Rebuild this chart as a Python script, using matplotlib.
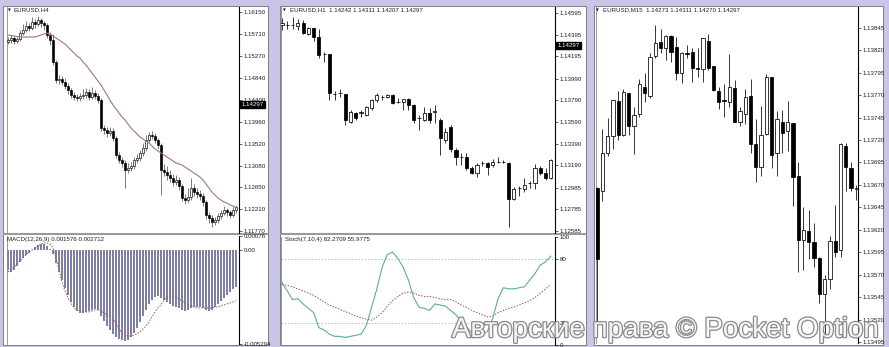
import numpy as np
import matplotlib
matplotlib.use('Agg')
import matplotlib.pyplot as plt
import matplotlib.patheffects as pe
from matplotlib.patches import Rectangle
from matplotlib.transforms import blended_transform_factory

plt.rcParams['font.family'] = ['Liberation Sans', 'DejaVu Sans']

# ---------------- data ----------------
# EURUSD H4 (candles, moving average, MACD)
H4_first_open = 1.1555
H4_close = [1.1559, 1.1563, 1.1557, 1.1561, 1.1573, 1.1579, 1.1587, 1.1583, 1.1595, 1.1591,
            1.1599, 1.1593, 1.1589, 1.1569, 1.1559, 1.1515, 1.1479, 1.1481, 1.1475, 1.1467,
            1.1459, 1.1449, 1.1445, 1.1443, 1.1447, 1.1449, 1.1455, 1.1445, 1.1453, 1.1447,
            1.1439, 1.1383, 1.1379, 1.1373, 1.1377, 1.1363, 1.1329, 1.1319, 1.1313, 1.1299,
            1.1303, 1.1307, 1.1319, 1.1323, 1.1333, 1.1343, 1.1359, 1.1369, 1.1367, 1.1359,
            1.1349, 1.1299, 1.1295, 1.1289, 1.1283, 1.1275, 1.1279, 1.1267, 1.1243, 1.1239,
            1.1245, 1.1263, 1.1255, 1.1251, 1.1247, 1.1235, 1.1209, 1.1203, 1.1195, 1.1199,
            1.1207, 1.1213, 1.1219, 1.1215, 1.1209, 1.1219, 1.1225]
H4_high = [1.1565, 1.1569, 1.1567, 1.1566, 1.1579, 1.1591, 1.1597, 1.1593, 1.1605, 1.1601,
           1.1607, 1.1603, 1.1597, 1.1593, 1.1575, 1.1571, 1.1519, 1.1489, 1.1487, 1.1483,
           1.1473, 1.1463, 1.1455, 1.1451, 1.1453, 1.1461, 1.1463, 1.1461, 1.1465, 1.1459,
           1.1453, 1.1443, 1.1389, 1.1385, 1.1385, 1.1383, 1.1367, 1.1335, 1.1325, 1.1319,
           1.1313, 1.1315, 1.1325, 1.1331, 1.1339, 1.1353, 1.1369, 1.1375, 1.1377, 1.1373,
           1.1363, 1.1353, 1.1311, 1.1307, 1.1299, 1.1291, 1.1289, 1.1285, 1.1271, 1.1251,
           1.1263, 1.1283, 1.1271, 1.1263, 1.1259, 1.1253, 1.1239, 1.1215, 1.1209, 1.1205,
           1.1213, 1.1219, 1.1227, 1.1223, 1.1219, 1.1225, 1.1229]
H4_low = [1.1551, 1.1553, 1.1551, 1.1553, 1.1557, 1.1569, 1.1575, 1.1577, 1.1579, 1.1583,
          1.1587, 1.1585, 1.1579, 1.1563, 1.1549, 1.1509, 1.1473, 1.1471, 1.1469, 1.1461,
          1.1451, 1.1443, 1.1439, 1.1437, 1.1437, 1.1441, 1.1443, 1.1439, 1.1441, 1.1441,
          1.1433, 1.1377, 1.1371, 1.1365, 1.1367, 1.1357, 1.1323, 1.1313, 1.1305, 1.1263,
          1.1293, 1.1297, 1.1301, 1.1313, 1.1317, 1.1327, 1.1337, 1.1355, 1.1361, 1.1353,
          1.1341, 1.1249, 1.1287, 1.1279, 1.1275, 1.1267, 1.1269, 1.1259, 1.1237, 1.1231,
          1.1233, 1.1239, 1.1247, 1.1243, 1.1239, 1.1227, 1.1201, 1.1193, 1.1185, 1.1189,
          1.1193, 1.1201, 1.1209, 1.1207, 1.1203, 1.1205, 1.1213]
H4_ma = [1.1569, 1.1568, 1.1567, 1.1566, 1.1565, 1.1565, 1.1565, 1.1565, 1.1565, 1.1565,
         1.1567, 1.1569, 1.1571, 1.1573, 1.1571, 1.1567, 1.1563, 1.1559, 1.1555, 1.1551,
         1.1545, 1.1539, 1.1533, 1.1527, 1.1523, 1.1515, 1.1509, 1.1501, 1.1493, 1.1485,
         1.1477, 1.1469, 1.1459, 1.1449, 1.1439, 1.1429, 1.1421, 1.1413, 1.1405, 1.1399,
         1.1391, 1.1383, 1.1377, 1.1371, 1.1365, 1.1361, 1.1357, 1.1353, 1.1347, 1.1341,
         1.1337, 1.1333, 1.1329, 1.1325, 1.1321, 1.1317, 1.1313, 1.1311, 1.1309, 1.1305,
         1.1301, 1.1297, 1.1293, 1.1289, 1.1285, 1.1279, 1.1271, 1.1263, 1.1255, 1.1249,
         1.1243, 1.1239, 1.1235, 1.1233, 1.1229, 1.1227, 1.1223]
MACD_hist = [-0.00114, -0.00126, -0.00114, -0.00092, -0.00070, -0.00047, -0.00030, -0.00019, -0.00002, 0.00015,
             0.00026, 0.00031, 0.00031, 0.00020, 0.00003, -0.00025, -0.00075, -0.00126, -0.00171, -0.00215,
             -0.00255, -0.00294, -0.00322, -0.00344, -0.00356, -0.00356, -0.00350, -0.00344, -0.00339, -0.00333,
             -0.00339, -0.00373, -0.00401, -0.00429, -0.00451, -0.00473, -0.00490, -0.00502, -0.00507, -0.00513,
             -0.00507, -0.00490, -0.00468, -0.00440, -0.00406, -0.00373, -0.00339, -0.00305, -0.00283, -0.00266,
             -0.00260, -0.00272, -0.00283, -0.00294, -0.00305, -0.00316, -0.00322, -0.00328, -0.00339, -0.00344,
             -0.00339, -0.00328, -0.00322, -0.00322, -0.00322, -0.00328, -0.00339, -0.00344, -0.00339, -0.00322,
             -0.00305, -0.00288, -0.00272, -0.00255, -0.00238, -0.00221, -0.00210]
MACD_signal = [-0.00126, -0.00114, -0.00098, -0.00081, -0.00064, -0.00047, -0.00030, -0.00013, -0.00002, 0.00009,
               0.00020, 0.00031, 0.00037, 0.00037, 0.00031, 0.00009, -0.00047, -0.00114, -0.00182, -0.00232,
               -0.00272, -0.00300, -0.00328, -0.00339, -0.00344, -0.00350, -0.00350, -0.00350, -0.00344, -0.00339,
               -0.00339, -0.00344, -0.00356, -0.00367, -0.00378, -0.00389, -0.00417, -0.00445, -0.00468, -0.00479,
               -0.00485, -0.00485, -0.00479, -0.00473, -0.00462, -0.00445, -0.00429, -0.00406, -0.00378, -0.00350,
               -0.00328, -0.00311, -0.00283, -0.00266, -0.00260, -0.00260, -0.00266, -0.00277, -0.00288, -0.00300,
               -0.00311, -0.00316, -0.00322, -0.00328, -0.00328, -0.00328, -0.00328, -0.00328, -0.00328, -0.00322,
               -0.00322, -0.00316, -0.00311, -0.00305, -0.00300, -0.00294, -0.00288]
H4_ticks = [1.16150, 1.15710, 1.15270, 1.14840, 1.14400, 1.13960, 1.13520, 1.13080, 1.12650, 1.12210, 1.11770]
MACD_ticks = [0.00076, 0.0, -0.005294]
MACD_tick_labels = ['0.00076', '0.00', '-0.005294']

# EURUSD H1 (candles, stochastic)
H1_open = [1.14485, 1.14485, 1.14485, 1.14475, 1.14503, 1.14402, 1.14457, 1.14374, 1.14217, 1.14217,
           1.13848, 1.13858, 1.13848, 1.13590, 1.13673, 1.13673, 1.13655, 1.13719, 1.13793, 1.13821,
           1.13821, 1.13839, 1.13775, 1.13775, 1.13802, 1.13747, 1.13627, 1.13609, 1.13673, 1.13682,
           1.13609, 1.13424, 1.13544, 1.13332, 1.13268, 1.13268, 1.13166, 1.13120, 1.13212, 1.13212,
           1.13194, 1.13221, 1.13221, 1.13212, 1.12880, 1.12982, 1.12972, 1.13028, 1.13028, 1.13166,
           1.13120, 1.13074]
H1_high = [1.14549, 1.14521, 1.14558, 1.14540, 1.14531, 1.14466, 1.14457, 1.14448, 1.14236, 1.14217,
           1.13876, 1.13894, 1.13848, 1.13701, 1.13682, 1.13701, 1.13738, 1.13802, 1.13858, 1.13839,
           1.13848, 1.13848, 1.13811, 1.13802, 1.13811, 1.13756, 1.13655, 1.13728, 1.13719, 1.13747,
           1.13627, 1.13535, 1.13563, 1.13350, 1.13304, 1.13304, 1.13185, 1.13212, 1.13231, 1.13221,
           1.13249, 1.13268, 1.13240, 1.13221, 1.12991, 1.13000, 1.13074, 1.13046, 1.13203, 1.13185,
           1.13166, 1.13249]
H1_low = [1.14438, 1.14448, 1.14448, 1.14438, 1.14402, 1.14392, 1.14337, 1.14180, 1.14143, 1.13793,
          1.13793, 1.13821, 1.13563, 1.13581, 1.13609, 1.13636, 1.13646, 1.13701, 1.13775, 1.13793,
          1.13811, 1.13756, 1.13765, 1.13701, 1.13701, 1.13581, 1.13516, 1.13599, 1.13581, 1.13581,
          1.13286, 1.13397, 1.13314, 1.13194, 1.13194, 1.13148, 1.13111, 1.13083, 1.13185, 1.13102,
          1.13175, 1.13212, 1.13212, 1.12622, 1.12871, 1.12908, 1.12945, 1.12982, 1.12972, 1.13102,
          1.13055, 1.13065]
H1_close = [1.14503, 1.14487, 1.14487, 1.14503, 1.14411, 1.14457, 1.14374, 1.14208, 1.14219, 1.13858,
            1.13850, 1.13860, 1.13609, 1.13682, 1.13627, 1.13682, 1.13728, 1.13793, 1.13839, 1.13823,
            1.13839, 1.13765, 1.13777, 1.13802, 1.13747, 1.13609, 1.13629, 1.13673, 1.13609, 1.13692,
            1.13443, 1.13498, 1.13341, 1.13268, 1.13270, 1.13166, 1.13120, 1.13194, 1.13214, 1.13175,
            1.13221, 1.13223, 1.13223, 1.12880, 1.12972, 1.12984, 1.13009, 1.13030, 1.13166, 1.13120,
            1.13074, 1.13240]
STOCH_main = [58, 50, 42, 43, 38, 34, 30, 16, 14, 10, 8, 8, 7, 8, 9, 10, 18, 35, 52, 72,
              84, 86, 80, 72, 60, 44, 35, 34, 32, 38, 37, 36, 32, 28, 22, 17, 11, 8, 9, 13,
              25, 43, 53, 52, 52, 53, 54, 60, 66, 74, 77, 82.27]
STOCH_signal = [56, 55, 54, 52, 50, 48, 46, 43, 40, 37, 35, 33, 31, 29, 27, 25, 24, 23, 26, 30,
                36, 41, 45, 48, 49, 48, 46, 45, 45, 44, 43, 42, 42, 40, 37, 35, 32, 30, 28, 26,
                27, 30, 32, 34, 35, 37, 39, 41, 44, 48, 52, 55.98]
H1_ticks = [1.14595, 1.14395, 1.14195, 1.13990, 1.13790, 1.13590, 1.13390, 1.13190, 1.12985, 1.12785, 1.12585]
STOCH_levels = [80, 20]
STOCH_ticks = [100, 80, 20, 0]

# EURUSD M15 (candles)
M15_open = [1.13667, 1.13663, 1.13706, 1.13724, 1.13763, 1.13725, 1.13772, 1.13736, 1.13749, 1.13779,
            1.13769, 1.13813, 1.13829, 1.13822, 1.13836, 1.13823, 1.13795, 1.13817, 1.13818, 1.13800,
            1.13799, 1.13830, 1.13802, 1.13774, 1.13764, 1.13762, 1.13778, 1.13740, 1.13749, 1.13769,
            1.13716, 1.13690, 1.13727, 1.13790, 1.13705, 1.13740, 1.13730, 1.13739, 1.13680, 1.13609,
            1.13619, 1.13606, 1.13589, 1.13549, 1.13565, 1.13608, 1.13597, 1.13713, 1.13689, 1.13665]
M15_high = [1.13668, 1.13732, 1.13744, 1.13765, 1.13775, 1.13777, 1.13772, 1.13757, 1.13788, 1.13795,
            1.13817, 1.13848, 1.13843, 1.13837, 1.13837, 1.13835, 1.13818, 1.13826, 1.13822, 1.13822,
            1.13834, 1.13838, 1.13802, 1.13779, 1.13782, 1.13816, 1.13787, 1.13757, 1.13777, 1.13788,
            1.13743, 1.13758, 1.13793, 1.13790, 1.13752, 1.13753, 1.13763, 1.13739, 1.13695, 1.13645,
            1.13642, 1.13628, 1.13590, 1.13570, 1.13613, 1.13648, 1.13717, 1.13717, 1.13695, 1.13670]
M15_low = [1.13509, 1.13652, 1.13702, 1.13710, 1.13720, 1.13724, 1.13726, 1.13704, 1.13746, 1.13762,
           1.13767, 1.13811, 1.13817, 1.13809, 1.13807, 1.13787, 1.13783, 1.13811, 1.13785, 1.13790,
           1.13784, 1.13798, 1.13774, 1.13755, 1.13746, 1.13757, 1.13740, 1.13735, 1.13738, 1.13705,
           1.13673, 1.13680, 1.13726, 1.13689, 1.13680, 1.13706, 1.13708, 1.13646, 1.13573, 1.13575,
           1.13588, 1.13579, 1.13539, 1.13502, 1.13554, 1.13590, 1.13590, 1.13663, 1.13663, 1.13653]
M15_close = [1.13587, 1.13706, 1.13724, 1.13765, 1.13726, 1.13773, 1.13735, 1.13748, 1.13782, 1.13772,
             1.13812, 1.13828, 1.13822, 1.13836, 1.13818, 1.13795, 1.13817, 1.13816, 1.13800, 1.13799,
             1.13833, 1.13800, 1.13776, 1.13762, 1.13763, 1.13779, 1.13740, 1.13752, 1.13768, 1.13716,
             1.13690, 1.13726, 1.13790, 1.13703, 1.13743, 1.13728, 1.13740, 1.13679, 1.13609, 1.13620,
             1.13606, 1.13589, 1.13548, 1.13565, 1.13608, 1.13595, 1.13716, 1.13690, 1.13666, 1.13667]
M15_ticks = [1.13845, 1.13820, 1.13795, 1.13770, 1.13745, 1.13720, 1.13695, 1.13670,
             1.13645, 1.13620, 1.13595, 1.13570, 1.13545, 1.13520, 1.13495]

CURRENT_PRICE = 1.14297
H1_header = "EURUSD,H1  1.14242 1.14311 1.14207 1.14297"
M15_header = "EURUSD,M15  1.14273 1.14311 1.14270 1.14297"
H4_header = "EURUSD,H4"
MACD_header = "MACD(12,26,9) 0.001576 0.002712"
STOCH_header = "Stoch(7,10,4) 82.2709 55.9775"
WATERMARK = "Авторские права © Pocket Option"

# ---------------- figure ----------------
W, H = 889, 347
fig = plt.figure(figsize=(W / 100, H / 100), dpi=100)
fig.patch.set_facecolor('#c9c5e7')

LAB = 4.4
TXT = '#1e1e1e'


def px_axes(x0, y0, x1, y1):
    return fig.add_axes([x0 / W, 1 - y1 / H, (x1 - x0) / W, (y1 - y0) / H])


def window(x0, y0, x1, y1):
    fig.add_artist(Rectangle((x0 / W, 1 - y1 / H), (x1 - x0) / W, (y1 - y0) / H,
                             transform=fig.transFigure, facecolor='white',
                             edgecolor='#7d7d7d', lw=0.7, zorder=-2))


def separator(x0, x1, y):
    fig.add_artist(Rectangle((x0 / W, 1 - (y + 2.2) / H), (x1 - x0) / W, 2.2 / H,
                             transform=fig.transFigure, facecolor='#9a9a9a',
                             edgecolor='none', zorder=-1))


def ftext(x, y, s, **kw):
    kw.setdefault('fontsize', LAB)
    kw.setdefault('color', TXT)
    fig.text(x / W, 1 - y / H, s, va='center', ha='left', **kw)


def style(ax, ticks, labels, ylim, xlim):
    ax.set_facecolor('white')
    ax.set_xlim(*xlim)
    ax.set_ylim(*ylim)
    ax.set_xticks([])
    ax.yaxis.tick_right()
    ax.set_yticks(ticks)
    ax.set_yticklabels(labels)
    ax.tick_params(axis='y', length=2, width=0.5, pad=1.5, labelsize=LAB,
                   colors=TXT, direction='out')
    for s in ('top', 'bottom'):
        ax.spines[s].set_visible(False)
    ax.spines['left'].set_color('#8a8a8a')
    ax.spines['left'].set_linewidth(0.6)
    ax.spines['right'].set_color('black')
    ax.spines['right'].set_linewidth(0.8)


def candles(ax, o, h, l, c, width, lw, wick='black'):
    o, h, l, c = (np.asarray(v, dtype=float) for v in (o, h, l, c))
    x = np.arange(len(c))
    ax.vlines(x, l, h, color=wick, lw=lw, zorder=2)
    bull = c >= o
    ax.bar(x, np.abs(c - o), width, bottom=np.minimum(o, c),
           color=np.where(bull, 'white', 'black'), edgecolor='black',
           linewidth=lw, zorder=3)


def price_box(ax, price, text):
    tr = blended_transform_factory(ax.transAxes, ax.transData)
    ax.annotate(text, xy=(1, price), xycoords=tr, xytext=(1.6, 0),
                textcoords='offset points', va='center', ha='left',
                fontsize=LAB, color='white', annotation_clip=False, zorder=6,
                bbox=dict(boxstyle='square,pad=0.2', fc='black', ec='black'))


# windows
window(3, 6, 268, 345)
window(280, 6, 586, 345)
window(594, 6, 883, 345)
separator(3, 268, 233)
separator(280, 586, 233)

fmt5 = lambda v: f"{v:.5f}"

# ---- H4 ----
ax1 = px_axes(7, 7, 239, 233)
H4_open = [H4_first_open] + H4_close[:-1]
candles(ax1, H4_open, H4_high, H4_low, H4_close, 0.45, 0.45, wick='#333333')
ax1.plot(np.arange(len(H4_ma)), H4_ma, color='#a8756e', lw=0.8, zorder=4)
style(ax1, H4_ticks, [fmt5(t) for t in H4_ticks], (1.1173, 1.1625), (-0.33, 77.0))
price_box(ax1, CURRENT_PRICE, fmt5(CURRENT_PRICE))

ax1b = px_axes(7, 236, 239, 344)
xm = np.arange(len(MACD_hist))
ax1b.bar(xm, MACD_hist, 0.42, color='#7f80a6', zorder=2)
ax1b.plot(np.arange(len(MACD_signal)), MACD_signal, color='#a2574c', lw=0.7,
          ls=(0, (1.5, 1.5)), zorder=3)
style(ax1b, MACD_ticks, MACD_tick_labels, (-0.0053, 0.00076), (-0.33, 77.0))

# ---- H1 ----
ax2 = px_axes(281, 7, 555, 233)
candles(ax2, H1_open, H1_high, H1_low, H1_close, 0.6, 0.55)
style(ax2, H1_ticks, [fmt5(t) for t in H1_ticks], (1.12567, 1.14650), (-0.19, 51.8))
price_box(ax2, CURRENT_PRICE, fmt5(CURRENT_PRICE))

ax2b = px_axes(281, 237, 555, 345)
for lv in STOCH_levels:
    ax2b.axhline(lv, color='#b9b9b9', lw=0.6, ls=(0, (2, 2)), zorder=1)
ax2b.plot(np.arange(len(STOCH_main)), STOCH_main, color='#5fa9a0', lw=0.8, zorder=3)
ax2b.plot(np.arange(len(STOCH_signal)), STOCH_signal, color='#a0504a', lw=0.7,
          ls=(0, (1.5, 1.5)), zorder=2)
style(ax2b, STOCH_ticks, [str(t) for t in STOCH_ticks], (0, 100), (-0.19, 51.8))

# ---- M15 ----
ax3 = px_axes(596, 7, 858, 343)
candles(ax3, M15_open, M15_high, M15_low, M15_close, 0.62, 0.55)
style(ax3, M15_ticks, [fmt5(t) for t in M15_ticks], (1.13495 - 0.00001, 1.13868), (-0.19, 49.3))

# headers
ftext(8, 10, '\u25BC', fontsize=2.6, family='DejaVu Sans')
ftext(13, 10, H4_header)
ftext(283, 10, '\u25BC', fontsize=2.6, family='DejaVu Sans')
ftext(290, 10, H1_header)
ftext(596, 10, '\u25BC', fontsize=2.6, family='DejaVu Sans')
ftext(603, 10, M15_header)
ftext(7, 240, MACD_header)
ftext(285, 240, STOCH_header)

# watermark
fig.text(878 / W, 1 - 337 / H, WATERMARK, fontsize=20, family='Liberation Sans',
         color='#f6f6f6', ha='right', va='baseline', zorder=20,
         path_effects=[pe.withStroke(linewidth=1.8, foreground='#8a8a8a')])

fig.savefig('out.png', dpi=100, facecolor=fig.get_facecolor())
